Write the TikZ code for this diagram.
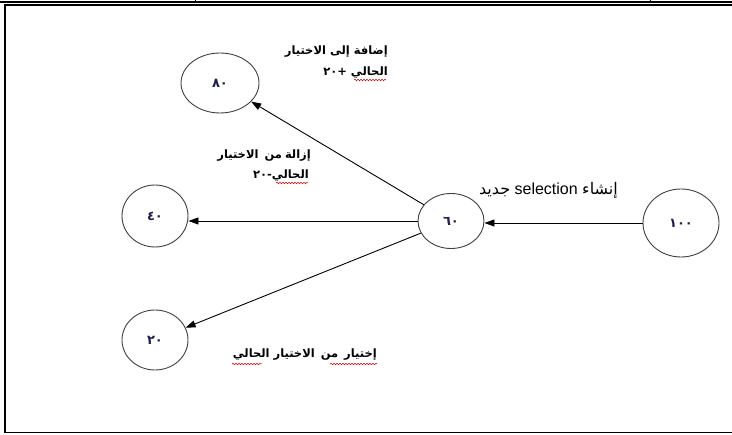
\documentclass[tikz,border=0pt]{standalone}
\usepackage{fontspec}
\setmainfont{Liberation Sans}
\newfontfamily\arabicfont[Script=Arabic]{DejaVu Sans}
\TeXXeTstate=1
\usetikzlibrary{shapes.geometric,arrows.meta,decorations.pathmorphing}
\definecolor{numblue}{RGB}{30,30,80}
\newcommand{\wsp}{\hspace{3pt}}

\begin{document}
\begin{tikzpicture}[x=1pt,y=-1pt,
  state/.style={ellipse, draw=black!75, line width=0.9pt, inner sep=0pt,
    font=\arabicfont\bfseries\fontsize{13}{14}\selectfont, text=numblue},
  arr/.style={draw, line width=0.9pt, -{Triangle[length=10pt,width=7pt]}},
  lbl/.style={font=\arabicfont\bfseries\fontsize{11.5}{14}\selectfont, inner sep=0pt, anchor=east},
  squig/.style={draw=red!85!black, line width=0.5pt, decorate,
    decoration={snake, amplitude=0.8pt, segment length=3pt}}]
\useasboundingbox (0,0) rectangle (732,435);

% page frame
\draw[line width=2pt] (0,2) -- (732,2);
\draw[line width=1pt] (195,0) -- (195,2);
\draw[line width=1pt] (650,0) -- (650,2);
\draw[line width=1.5pt] (732,4.8) -- (4.8,4.8) -- (4.8,432.7) -- (732,432.7);

% states
\node[state, minimum width=78pt, minimum height=60pt] (eighty)  at (220,83)  {٨٠};
\node[state, minimum width=66pt, minimum height=62pt] (forty)   at (155,216) {٤٠};
\node[state, minimum width=66pt, minimum height=60pt] (twenty)  at (155,340) {٢٠};
\node[state, minimum width=66pt, minimum height=55pt] (sixty)   at (451,221) {٦٠};
\node[state, minimum width=76pt, minimum height=68pt] (hundred) at (681,223) {١٠٠};

% transitions
\draw[arr] (hundred.west) -- (sixty.east |- hundred.west);
\draw[arr] (sixty.west) -- (forty.east |- sixty.west);
\draw[arr] (sixty) -- (eighty);
\draw[arr] (sixty) -- (twenty);

% labels
\node[lbl] (addA) at (388,52) {\beginR إضافة إلى الاختيار\endR};
\node[lbl] (addB) at (388,73) {\beginR الحالي +\beginL ٢٠\endL\endR};
\node[lbl] (remA) at (311,156) {\beginR إزالة\wsp من\wsp\wsp الاختيار\endR};
\node[lbl] (remB) at (309,176) {\beginR الحالي-\beginL ٢٠\endL\endR};
\node[lbl, font=\fontsize{16}{18}\selectfont] (newsel) at (618,190)
  {\beginR{\arabicfont إنشاء} \beginL selection\endL{} {\arabicfont جديد}\endR};
\node[lbl] (pick) at (377,355) {\beginR إختيار\wsp\wsp من\wsp\wsp الاختيار الحالي\endR};

% spell-check underlines
\draw[squig] (354,80) -- (386,80);
\draw[squig] (276,183) -- (308,183);
\draw[squig] (232,364) -- (262,364);
\draw[squig] (330,364) -- (377,364);
\end{tikzpicture}
\end{document}
